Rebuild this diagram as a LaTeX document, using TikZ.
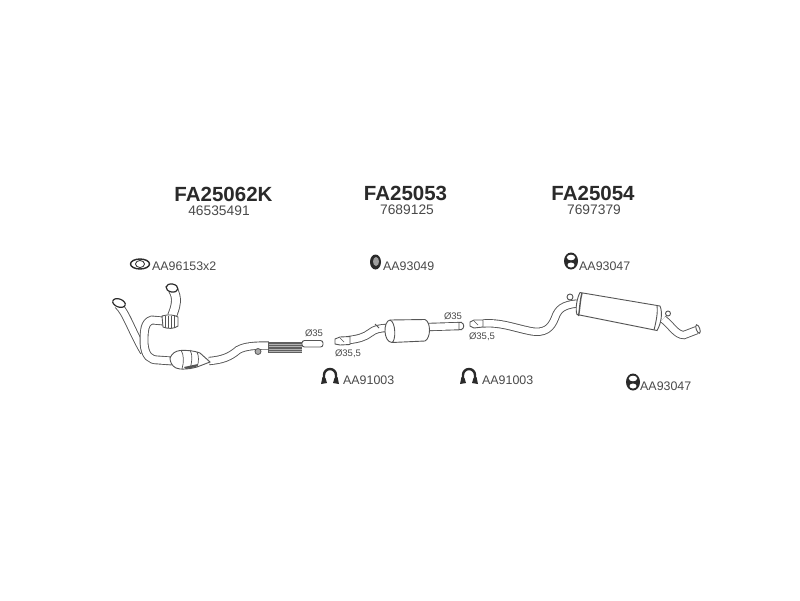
\documentclass[tikz,border=0pt]{standalone}
\usepackage{fontspec}
\setmainfont{Liberation Sans}
\usetikzlibrary{positioning,calc}
\definecolor{inkDark}{HTML}{2A2A2A}
\definecolor{inkText}{HTML}{4A4A4A}
\definecolor{inkLine}{HTML}{555555}
\tikzset{
  partTitle/.style={font=\fontsize{20.5}{22}\selectfont\bfseries,text=inkDark,inner sep=0pt},
  partNumber/.style={font=\fontsize{13.8}{15}\selectfont,text=inkText,inner sep=0pt},
  itemLabel/.style={font=\fontsize{12.4}{14}\selectfont,text=inkText,inner sep=0pt,anchor=west},
  sizeLabel/.style={font=\fontsize{9.5}{11}\selectfont,text=inkText,inner sep=0pt},
  outline/.style={draw=inkLine,line width=0.9pt},
  pipe/.style={draw=inkLine,line width=0.9pt,double=white,double distance=5pt,line cap=butt},
  widePipe/.style={pipe,double distance=6.5pt},
  hanger/.pic={
    \fill[inkDark] (0,0) ellipse (7 and 8.5);
    \fill[white] (0,-3.5) ellipse (4.2 and 2.8);
    \fill[white] (0,4) ellipse (3.5 and 2.5);
  },
  mount/.pic={
    \fill[inkDark] (0,0) ellipse (5.5 and 7.5);
    \fill[inkDark!45] (0.5,-0.5) ellipse (3 and 4.5);
  },
  clamp/.pic={
    \draw[inkDark,line width=2.4pt] (-6,4) -- (-6,-1) arc (180:360:6) -- (6,4);
    \fill[inkDark] (-9,8) -- (-7.5,1) -- (-4.5,2) -- (-3,7) -- cycle;
    \fill[inkDark] (9,8) -- (7.5,1) -- (4.5,2) -- (3,7) -- cycle;
  },
}
\begin{document}
\begin{tikzpicture}[x=1pt,y=-1pt]
\useasboundingbox (0,0) rectangle (800,600);
\fill[white] (0,0) rectangle (800,600);

% ===== Headings =====
\node[partTitle] (titleFront) at (223.5,194) {FA25062K};
\node[partNumber] (numFront) at (219,210.5) {46535491};
\node[partTitle] (titleMid) at (405.5,193.5) {FA25053};
\node[partNumber] (numMid) at (407,210) {7689125};
\node[partTitle] (titleRear) at (593,193.5) {FA25054};
\node[partNumber] (numRear) at (594,210) {7697379};

% ===== Small parts =====
\draw[inkDark,fill=white,line width=1.4pt] (140,264) ellipse (9.5 and 5);
\draw[inkDark,fill=white,line width=0.8pt] (140,264) ellipse (4.5 and 3.5);
\node[itemLabel] (lblGasket) at (152,266) {AA96153x2};

\pic at (375.5,262) {mount};
\node[itemLabel] (lblHangerMid) at (383,266) {AA93049};
\pic at (571,261) {hanger};
\node[itemLabel] (lblHangerRear) at (579,266) {AA93047};
\pic at (633,382) {hanger};
\node[itemLabel] (lblHangerLow) at (640,386) {AA93047};

\pic at (330,376) {clamp};
\node[itemLabel] (lblClampA) at (343,380) {AA91003};
\pic at (469,376) {clamp};
\node[itemLabel] (lblClampB) at (482,380) {AA91003};

% ===== Front pipe =====
\draw[pipe,double distance=6.5pt] (118,305) .. controls (126,312) and (132,332) .. (144,352);
\draw[pipe,double distance=8pt] (173,290) .. controls (178,298) and (176,306) .. (172,316);
\draw[pipe,double distance=7pt] (163,321) -- (152,320) .. controls (144,322) and (144,332) .. (144,343)
  .. controls (145,356) and (150,360) .. (158,360) -- (172,361);
\draw[outline,fill=white] (162,316) .. controls (168,314) and (175,315) .. (178,317)
  -- (178,326) .. controls (174,329) and (168,329) .. (163,327) -- cycle;
\foreach \x in {165,168,171,174} {\draw[outline,line width=0.6pt] (\x,316) -- (\x,328);}
\draw[inkDark,fill=white,line width=1.2pt,rotate around={-20:(119,303)}] (119,303) ellipse (6.5 and 4);
\draw[inkDark,fill=white,line width=1.2pt,rotate around={-10:(172,288)}] (172,288) ellipse (6 and 4);
\draw[widePipe] (209,361) .. controls (222,360) and (230,357) .. (238,350)
  .. controls (245,346) and (255,345.5) .. (269,345.5);
\draw[outline,fill=white] (170,358) .. controls (172,353) and (176,351) .. (180,350.5)
  .. controls (188,350) and (195,351) .. (200,353) -- (210,362) -- (197,367)
  .. controls (190,369) and (180,370) .. (176,368) .. controls (172,366) and (170,362) .. (170,358) -- cycle;
\draw[outline,line width=0.7pt] (181,350) .. controls (184,355) and (184,362) .. (182,369);
\draw[outline,line width=0.7pt] (190,350) .. controls (193,355) and (192,362) .. (190,369);
\draw[outline,line width=0.7pt] (197,352) .. controls (199,356) and (199,362) .. (197,367);
\fill[inkDark!80] (184,367) -- (198,364) -- (196,367) -- (186,369) -- cycle;
\draw[inkLine,fill=inkLine!50,line width=0.8pt] (258,351.5) circle (3);
\fill[inkDark!75] (268,342) rectangle (302,353);
\foreach \y in {344,346.5,349,351} {\draw[gray!60,line width=0.5pt] (269,\y) -- (302,\y);}
\draw[outline,fill=white,rounded corners=2.5pt] (302,340.5) rectangle (323,347);
\node[sizeLabel] (sizeFront) at (314,333) {Ø35};

% ===== Middle silencer =====
\draw[widePipe] (349,340) .. controls (358,339) and (365,337) .. (370,333)
  .. controls (375,329) and (380,328) .. (388,328);
\draw[outline,fill=white] (350,336.5) -- (340,337) -- (335,339) -- (335,344) -- (340,345) -- (350,344.5) -- cycle;
\draw[outline,line width=0.7pt] (340,338) -- (344,342);
\draw[outline] (375,324) -- (379,328);
\draw[widePipe] (428,327) -- (462,326);
\draw[outline,fill=white] (390,320) -- (425,319.5) .. controls (431,322) and (431,338) .. (425,341)
  -- (392,342.5) .. controls (383,342) and (383,321) .. (390,320) -- cycle;
\draw[outline] (390,320) .. controls (396,322) and (396,341) .. (392,342.5);
\draw[outline,fill=white] (461.5,322.5) .. controls (464.5,324) and (464.5,328) .. (461.5,329.5) -- (459,329.5) -- (459,322.5) -- cycle;
\node[sizeLabel] (sizeMidOut) at (453,316) {Ø35};
\node[sizeLabel] (sizeMidIn) at (348,353.5) {Ø35,5};

% ===== Rear silencer =====
\draw[widePipe] (483,323.5) .. controls (500,322) and (515,328) .. (530,331)
  .. controls (545,334) and (551,328) .. (555,318) .. controls (558,309) and (563,305) .. (577,303.5);
\draw[outline,fill=white] (483,320) -- (474,320) -- (470,322) -- (470,326) -- (474,328) -- (483,327) -- cycle;
\draw[outline,line width=0.7pt] (474,321) -- (478,325);
\node[sizeLabel] (sizeRear) at (482,337) {Ø35,5};
\draw[outline,fill=white] (570,297) circle (3);
\draw[outline,fill=white] (580,292.5) -- (660,306) .. controls (663,313) and (661,324) .. (657,330.5)
  -- (577,314.5) .. controls (575,309) and (577,298) .. (580,292.5) -- cycle;
\draw[outline,line width=1.4pt] (582,293) .. controls (580,300) and (580,308) .. (578.5,316);
\draw[outline] (657,306) .. controls (658,313) and (656,322) .. (654,330);
\draw[widePipe] (663,319) .. controls (672,326) and (676,335) .. (684,335) -- (697,330);
\draw[outline,fill=white] (668,313.5) circle (2.5);
\draw[outline,fill=white,rotate around={-70:(698,329)}] (698,329) ellipse (4.5 and 1.8);
\end{tikzpicture}
\end{document}
